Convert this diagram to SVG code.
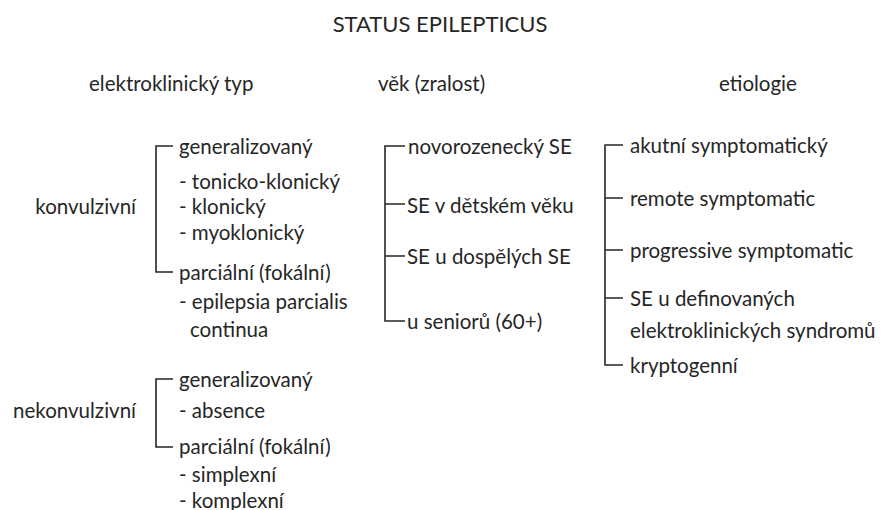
<svg xmlns="http://www.w3.org/2000/svg" width="883" height="510" viewBox="0 0 883 510">
<style>
text{font-family:Lato,"Liberation Sans",sans-serif;font-size:20.5px;fill:#262626}
.t{font-size:22px}
.r{text-anchor:end}
.m{text-anchor:middle}
.br{fill:none;stroke:#262626;stroke-width:1.6}
</style>
<rect width="883" height="510" fill="#fff"/>
<g id="title"><text x="440" y="32" class="m t">STATUS EPILEPTICUS</text></g>
<g id="headers">
<text x="89" y="91">elektroklinický typ</text>
<text x="378" y="91">věk (zralost)</text>
<text x="719" y="91">etiologie</text>
</g>
<g id="connectors">
<path class="br" d="M173,146H156V272H173"/>
<path class="br" d="M173,379H156V447H173"/>
<path class="br" d="M405,146H385V321H405M385,204H405M385,256H405"/>
<path class="br" d="M623,145H605V365H623M605,198H623M605,250H623M605,298H623"/>
</g>
<g id="konvulzivni">
<text x="136" y="214" class="r">konvulzivní</text>
<text x="179" y="154">generalizovaný</text>
<text x="179" y="189">- tonicko-klonický</text>
<text x="179" y="214">- klonický</text>
<text x="179" y="240">- myoklonický</text>
<text x="179" y="280">parciální (fokální)</text>
<text x="179" y="309">- epilepsia parcialis</text>
<text x="190" y="337">continua</text>
</g>
<g id="nekonvulzivni">
<text x="136" y="418" class="r">nekonvulzivní</text>
<text x="179" y="387">generalizovaný</text>
<text x="179" y="418">- absence</text>
<text x="179" y="454">parciální (fokální)</text>
<text x="179" y="482">- simplexní</text>
<text x="179" y="508">- komplexní</text>
</g>
<g id="vek">
<text x="408" y="154">novorozenecký SE</text>
<text x="407" y="213">SE v dětském věku</text>
<text x="407" y="264">SE u dospělých SE</text>
<text x="407" y="329">u seniorů (60+)</text>
</g>
<g id="etiologie">
<text x="630" y="153">akutní symptomatický</text>
<text x="630" y="206">remote symptomatic</text>
<text x="630" y="258">progressive symptomatic</text>
<text x="630" y="306">SE u definovaných</text>
<text x="630" y="338">elektroklinických syndromů</text>
<text x="630" y="373">kryptogenní</text>
</g>
</svg>
